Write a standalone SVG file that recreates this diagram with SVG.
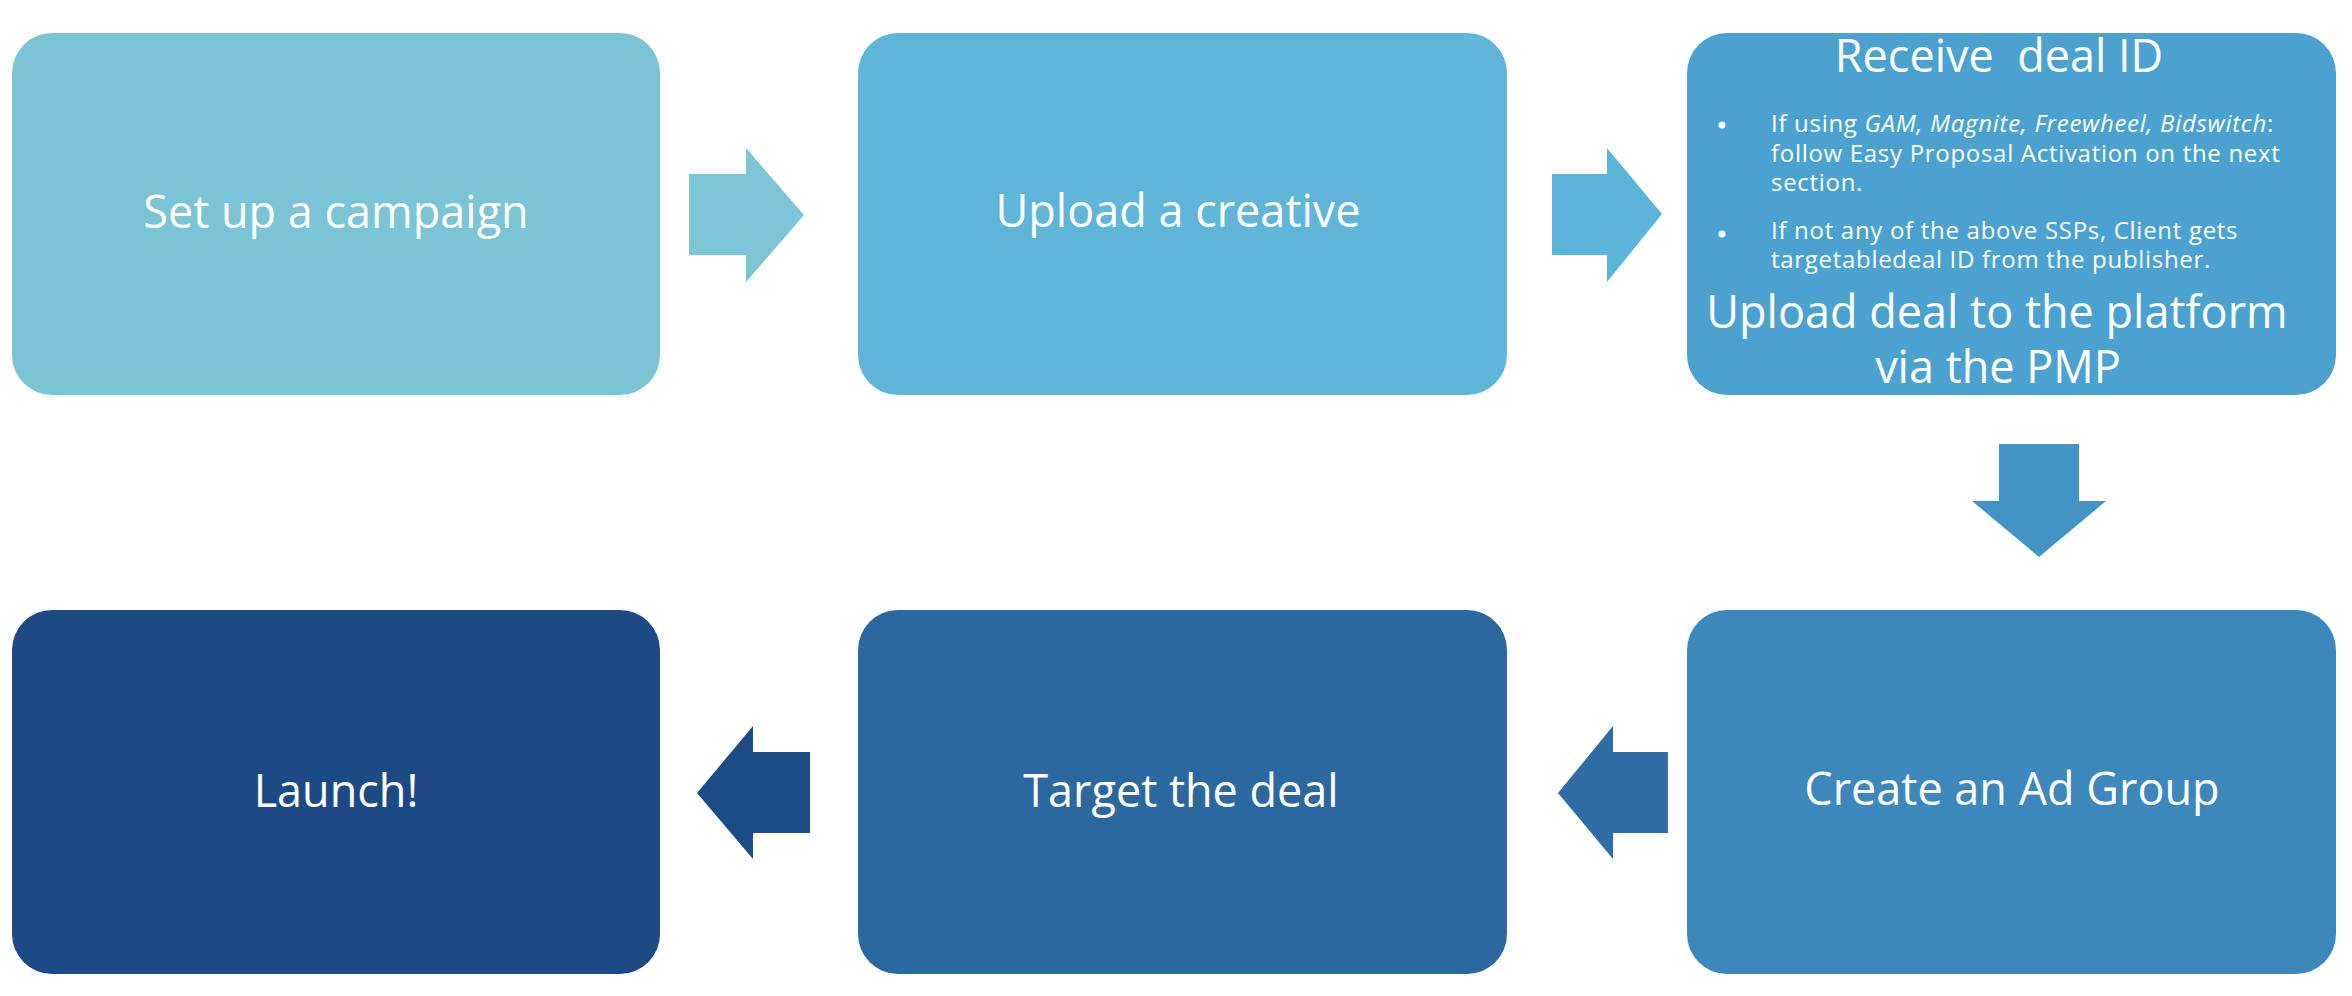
<svg xmlns="http://www.w3.org/2000/svg" width="2352" height="996" viewBox="0 0 2352 996">
<style>
  .t { font-family: "Open Sans", "Liberation Sans", sans-serif; fill: #ffffff; text-anchor: middle; }
  .big { font-size: 45px; }
  .small { font-size: 24px; letter-spacing: 0.7px; font-family: "Open Sans", "Liberation Sans", sans-serif; fill: #ffffff; }
</style>
<rect width="2352" height="996" fill="#ffffff"/>
<g id="connectors">
  <polygon points="689,174 746,174 746,148 804,215 746,282 746,255 689,255" fill="#7BC5D6"/>
  <polygon points="1552,174 1607,174 1607,148 1662,214 1607,282 1607,255 1552,255" fill="#5BB4D9"/>
  <polygon points="1999,444 2079,444 2079,501 2106,501 2039,557 1972,501 1999,501" fill="#4394C6"/>
  <polygon points="1668,752 1613,752 1613,726 1558,793 1613,859 1613,833 1668,833" fill="#2E6DA6"/>
  <polygon points="810,752 753,752 753,726 697,793 753,859 753,833 810,833" fill="#1C4C86"/>
</g>
<g id="node1">
  <rect x="12" y="33" width="648" height="362" rx="40" fill="#7BC4D5"/>
  <text class="t big" x="336" y="228">Set up a campaign</text>
</g>
<g id="node2">
  <rect x="858" y="33" width="649" height="362" rx="40" fill="#5FB6D8"/>
  <text class="t big" x="1178" y="227">Upload a creative</text>
</g>
<g id="node3">
  <rect x="1687" y="33" width="649" height="362" rx="40" fill="#4BA2D1"/>
  <text class="t big" x="1999" y="72" xml:space="preserve">Receive  deal ID</text>
  <circle cx="1722" cy="125" r="3.5" fill="#ffffff"/>
  <text class="small" x="1771" y="132">If using <tspan font-style="italic">GAM, Magnite, Freewheel, Bidswitch</tspan>:</text>
  <text class="small" x="1771" y="162">follow Easy Proposal Activation on the next</text>
  <text class="small" x="1771" y="191">section.</text>
  <circle cx="1722" cy="234" r="3.5" fill="#ffffff"/>
  <text class="small" x="1771" y="239">If not any of the above SSPs, Client gets</text>
  <text class="small" x="1771" y="268">targetabledeal ID from the publisher.</text>
  <text class="t big" x="1997" y="328">Upload deal to the platform</text>
  <text class="t big" x="1998" y="383">via the PMP</text>
</g>
<g id="node4">
  <rect x="1687" y="610" width="649" height="364" rx="40" fill="#3C87BB"/>
  <text class="t big" x="2012" y="805">Create an Ad Group</text>
</g>
<g id="node5">
  <rect x="858" y="610" width="649" height="364" rx="40" fill="#2C68A0"/>
  <text class="t big" x="1181" y="807">Target the deal</text>
</g>
<g id="node6">
  <rect x="12" y="610" width="648" height="364" rx="40" fill="#1C4A85"/>
  <text class="t big" x="336" y="807">Launch!</text>
</g>
</svg>
